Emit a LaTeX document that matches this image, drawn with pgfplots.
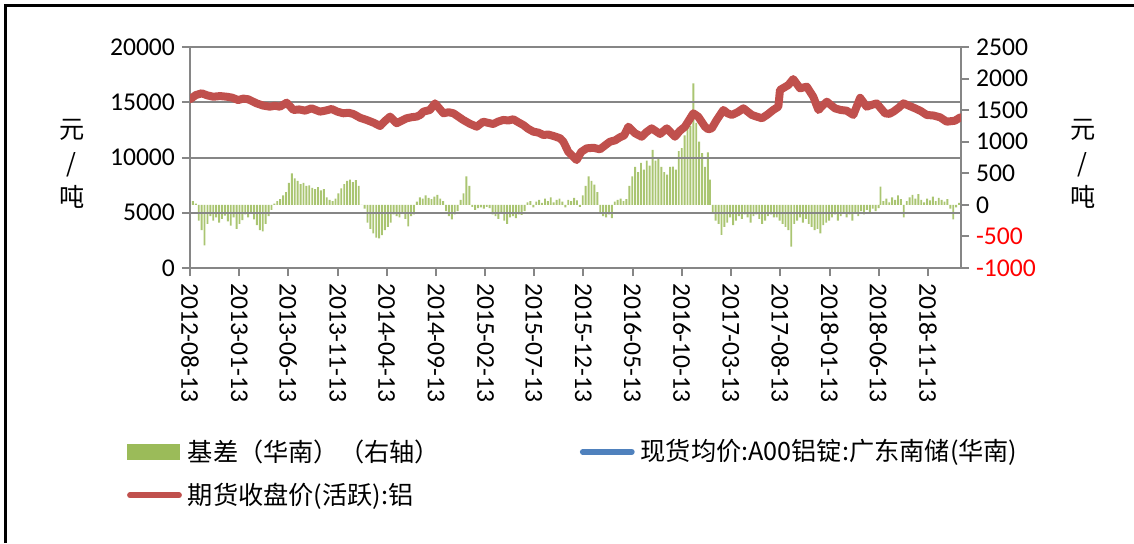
\documentclass[border=0pt]{standalone}
\usepackage{pgfplots}
\pgfplotsset{compat=1.18}
\usepackage{pgfplotstable}
\usepackage{fontspec}
\setmainfont{Carlito}
\newfontfamily\cjk{Noto Sans CJK SC}
\definecolor{redl}{HTML}{C0504D}
\definecolor{greenb}{HTML}{9BBB59}
\definecolor{bluel}{HTML}{4F81BD}
\definecolor{gridg}{HTML}{868686}

\pgfplotstableread{
day basis
0 130
9 60
18 20
27 -250
36 -400
45 -640
54 -300
63 -180
72 -250
81 -200
90 -280
99 -220
108 -170
117 -260
126 -330
135 -200
144 -380
153 -300
162 -240
171 -150
180 -200
189 -120
198 -230
207 -320
216 -400
225 -420
234 -300
243 -180
252 -80
261 20
270 60
279 90
288 150
297 200
306 350
315 500
324 420
333 380
342 330
351 350
360 300
369 310
378 270
387 250
396 280
405 230
414 250
423 120
432 80
441 60
450 100
459 180
468 260
477 330
486 380
495 400
504 360
513 390
522 300
531 0
540 -60
549 -280
558 -380
567 -450
576 -520
585 -530
594 -480
603 -400
612 -350
621 -280
630 -150
639 -180
648 -200
657 -130
666 -220
675 -340
684 -180
693 -150
702 50
711 120
720 100
729 150
738 110
747 90
756 130
765 160
774 100
783 60
792 -100
801 -180
810 -230
819 -150
828 -100
837 80
846 180
855 450
864 300
873 -30
882 -80
891 -50
900 -40
909 -60
918 -30
927 -50
936 -150
945 -180
954 -220
963 -130
972 -250
981 -300
990 -200
999 -180
1008 -210
1017 -150
1026 -160
1035 -100
1044 40
1053 60
1062 -40
1071 50
1080 80
1089 30
1098 100
1107 60
1116 120
1125 40
1134 80
1143 100
1152 50
1161 -40
1170 80
1179 60
1188 110
1197 70
1206 -30
1215 150
1224 300
1233 450
1242 380
1251 320
1260 200
1269 -130
1278 -180
1287 -200
1296 -150
1305 -210
1314 50
1323 80
1332 100
1341 60
1350 90
1359 300
1368 450
1377 600
1386 520
1395 665
1404 560
1413 700
1422 620
1431 870
1440 700
1449 740
1458 600
1467 520
1476 480
1485 600
1494 607
1503 560
1512 850
1521 900
1530 1100
1539 1345
1548 1250
1557 1925
1566 1300
1575 1000
1584 820
1593 600
1602 830
1608 400
1617 -130
1626 -250
1635 -300
1644 -475
1653 -350
1662 -280
1671 -200
1680 -320
1689 -250
1698 -180
1707 -220
1716 -150
1725 -200
1734 -280
1743 -180
1752 -150
1761 -220
1770 -300
1779 -250
1788 -180
1797 -150
1806 -200
1815 -200
1824 -250
1833 -300
1842 -350
1851 -400
1860 -660
1869 -300
1878 -250
1887 -200
1896 -280
1905 -220
1914 -300
1923 -350
1932 -400
1941 -380
1950 -450
1959 -320
1968 -280
1977 -250
1986 -200
1995 -150
2004 -250
2013 -180
2022 -130
2031 -200
2040 -150
2049 -250
2058 -120
2067 -180
2076 -100
2085 -150
2094 -80
2103 -130
2112 -60
2121 -100
2130 -50
2136 290
2145 60
2154 100
2163 40
2172 120
2181 80
2190 150
2199 90
2208 -200
2217 60
2226 120
2235 160
2244 100
2253 170
2262 80
2271 40
2280 100
2289 70
2298 130
2307 60
2316 110
2325 80
2334 50
2343 90
2352 -60
2361 -230
2370 -40
2379 30
}\basistable

\pgfplotstableread{
day close
0 15270
18 15650
36 15810
54 15620
72 15500
93 15560
114 15500
130 15420
149 15200
165 15330
180 15270
192 15100
206 14900
226 14700
247 14600
262 14680
278 14600
299 14960
320 14300
338 14350
356 14240
376 14450
402 14150
420 14250
438 14390
456 14150
474 14000
490 14050
505 13940
526 13600
547 13390
568 13150
588 12850
603 13300
619 13700
639 13100
670 13550
686 13650
701 13700
712 13850
722 14150
742 14300
758 14900
784 14000
800 14100
815 14000
830 13700
845 13400
866 13050
887 12790
907 13240
938 13030
953 13250
969 13400
985 13350
1000 13460
1015 13200
1031 12940
1046 12600
1062 12340
1078 12250
1093 12040
1108 12080
1124 11950
1145 11740
1155 11430
1165 10830
1170 10520
1196 9770
1210 10500
1227 10830
1248 10880
1268 10740
1284 11100
1299 11430
1315 11550
1330 11830
1343 12000
1356 12790
1377 12190
1397 11880
1412 12300
1428 12640
1454 12130
1475 12640
1500 11880
1515 12400
1531 12790
1557 14000
1572 13700
1593 12790
1603 12550
1614 12640
1629 13390
1650 14300
1663 14000
1676 13850
1694 14100
1712 14450
1738 13850
1753 13700
1769 13550
1787 13900
1804 14300
1820 14600
1825 16110
1851 16560
1866 17100
1887 16260
1908 16410
1928 15500
1944 14300
1957 14700
1970 15050
1995 14450
2013 14300
2031 14240
2052 13850
2073 15400
2093 14600
2108 14750
2124 14900
2150 14000
2163 13950
2176 14150
2192 14500
2207 14900
2243 14450
2261 14200
2279 13850
2300 13800
2320 13640
2341 13240
2366 13330
2383 13640
}\closetable

\begin{document}
\begin{tikzpicture}[x=1pt,y=1pt]
\useasboundingbox (0,0) rectangle (567,271.5);
\draw[line width=1.15pt] (2.75,0) -- (2.75,268.75) -- (567,268.75);

% right axis: basis bars
\begin{axis}[
  at={(95pt,137.5pt)}, anchor=south west,
  scale only axis, width=385.5pt, height=110.5pt,
  xmin=0, xmax=2385, ymin=-1000, ymax=2500,
  axis x line=none,
  axis y line*=right,
  scaled y ticks=false,
  ytick={-1000,-500,0,500,1000,1500,2000,2500},
  yticklabels={\textcolor{red}{-1000},\textcolor{red}{-500},0,500,1000,1500,2000,2500},
  tick align=outside,
  major tick length=4pt,
  tick style={gridg, line width=1pt},
  axis line style={gridg, line width=1pt},
  yticklabel style={font=\fontsize{12.8}{15}\selectfont, anchor=west},
  ylabel={元\\/\\吨},
  ylabel style={rotate=-90, align=center, font=\cjk\fontsize{12.6}{17}\selectfont,
    at={(axis description cs:1.158,0.47)}, anchor=center},
]
\addplot[ybar, bar width=0.95pt, fill=greenb!85!white, draw=none] table[x=day, y=basis] {\basistable};
\end{axis}

% left axis: prices
\begin{axis}[
  at={(95pt,137.5pt)}, anchor=south west,
  scale only axis, width=385.5pt, height=110.5pt,
  xmin=0, xmax=2385, ymin=0, ymax=20000,
  axis x line*=bottom, axis y line*=left,
  scaled y ticks=false,
  ytick={0,5000,10000,15000,20000},
  yticklabels={0,5000,10000,15000,20000},
  ymajorgrids,
  grid style={gridg, line width=1pt},
  tick align=outside,
  major tick length=4pt,
  tick style={gridg, line width=1pt},
  axis line style={gridg, line width=1pt},
  xtick={0,153,304,457,608,761,914,1064,1217,1369,1522,1673,1826,1979,2130,2283},
  xticklabels={2012-08-13,2013-01-13,2013-06-13,2013-11-13,2014-04-13,2014-09-13,2015-02-13,2015-07-13,2015-12-13,2016-05-13,2016-10-13,2017-03-13,2017-08-13,2018-01-13,2018-06-13,2018-11-13},
  xticklabel style={rotate=-90, anchor=west, font=\fontsize{12.8}{15}\selectfont},
  yticklabel style={font=\fontsize{12.8}{15}\selectfont, anchor=east},
  ylabel={元\\/\\吨},
  ylabel style={rotate=-90, align=center, font=\cjk\fontsize{12.6}{17}\selectfont,
    at={(axis description cs:-0.1534,0.47)}, anchor=center},
  legend columns=2,
  legend cell align=left,
  legend style={at={(axis description cs:-0.0821,-0.776)}, anchor=north west,
    draw=none, fill=none, inner sep=0pt, outer sep=0pt,
    font=\cjk\fontsize{12.6}{15}\selectfont,
    nodes={inner sep=0pt},
    row sep=9.5pt,
    /tikz/every odd column/.append style={column sep=3pt},
    /tikz/every even column/.append style={column sep=70pt}},
]
\addlegendimage{legend image code/.code={\fill[greenb] (0pt,-3.75pt) rectangle (26pt,3.75pt);}}
\addlegendentry{基差（华南）（右轴）}
\addlegendimage{legend image code/.code={\draw[bluel, line width=2.8pt, line cap=round] (1.4pt,0pt) -- (26pt,0pt);}}
\addlegendentry{现货均价:A00铝锭:广东南储(华南)}
\addplot[redl, line width=4pt, line join=round, line cap=round,
  legend image code/.code={\draw[redl, line width=2.8pt, line cap=round] (1.4pt,0pt) -- (26pt,0pt);}]
  table[x=day, y=close] {\closetable};
\addlegendentry{期货收盘价(活跃):铝}
\end{axis}
\end{tikzpicture}
\end{document}
